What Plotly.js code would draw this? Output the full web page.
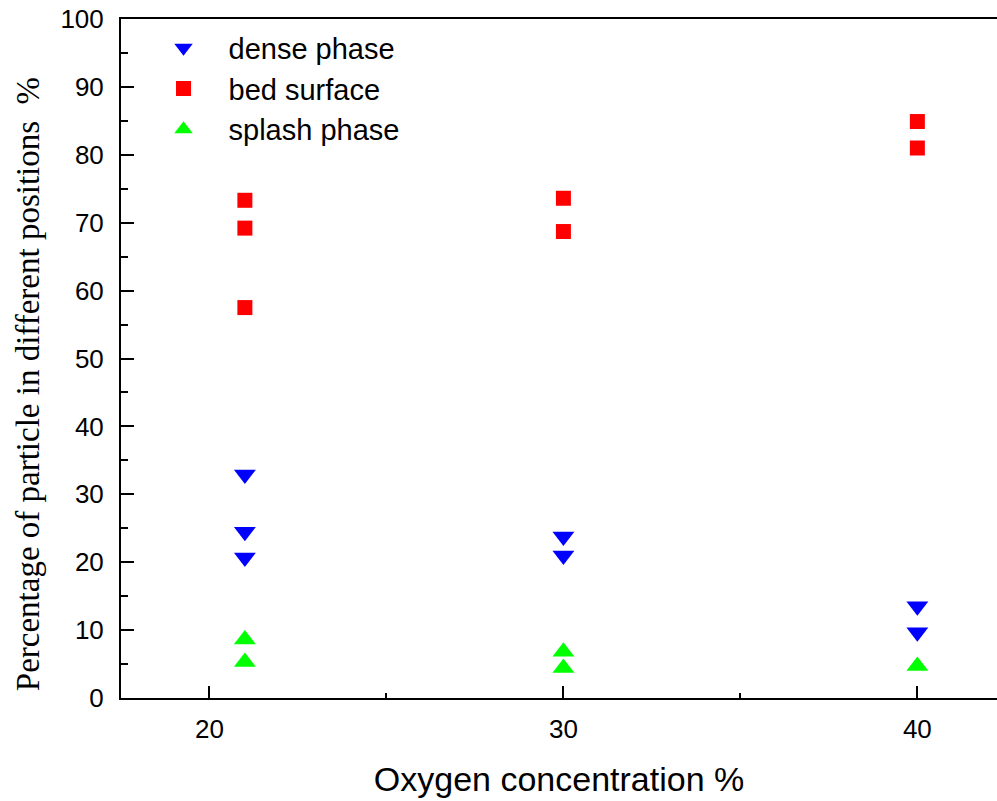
<!DOCTYPE html>
<html>
<head>
<meta charset="utf-8">
<script src="https://cdn.plot.ly/plotly-3.0.1.min.js"></script>
<style>html,body{margin:0;padding:0;overflow:hidden;background:#fff;}</style>
</head>
<body>
<div id="chart" style="width:997px;height:801px;"></div>
<script>
// Data
const seriesNames = ["dense phase", "bed surface", "splash phase"];
const xDense = [21, 21, 21, 30, 30, 40, 40];
const yDense = [32.9, 24.5, 20.7, 23.8, 21.0, 13.5, 9.7];
const xBed = [21, 21, 21, 30, 30, 40, 40];
const yBed = [73.3, 69.2, 57.5, 73.6, 68.7, 84.9, 81.0];
const xSplash = [21, 21, 30, 30, 40];
const ySplash = [8.6, 5.3, 6.8, 4.4, 4.7];
const xTickVals = [20, 30, 40];
const yTickVals = [0, 10, 20, 30, 40, 50, 60, 70, 80, 90, 100];
const xTitle = "Oxygen concentration %";
const yTitle = "Percentage of particle in different positions  %";

const traces = [
  {x: xDense, y: yDense, name: seriesNames[0], type: "scatter", mode: "markers",
   marker: {symbol: "triangle-down", size: 19, color: "#0000FF"}},
  {x: xBed, y: yBed, name: seriesNames[1], type: "scatter", mode: "markers",
   marker: {symbol: "square", size: 15, color: "#FF0000"}},
  {x: xSplash, y: ySplash, name: seriesNames[2], type: "scatter", mode: "markers",
   marker: {symbol: "triangle-up", size: 19, color: "#00FF00"}}
];

const layout = {
  width: 997, height: 801,
  margin: {l: 121, r: 0, t: 19, b: 103},
  paper_bgcolor: "#fff", plot_bgcolor: "#fff",
  font: {family: "Liberation Sans, Arial, sans-serif", color: "#000"},
  showlegend: true,
  legend: {x: 0.02, y: 0.995, xanchor: "left", yanchor: "top", bgcolor: "rgba(0,0,0,0)",
           font: {size: 29, family: "Liberation Sans, Arial, sans-serif"}, itemwidth: 80, tracegroupgap: 0},
  xaxis: {
    range: [17.5, 42.25], showgrid: false, zeroline: false,
    showline: true, linecolor: "#000", linewidth: 2, mirror: true,
    tickmode: "array", tickvals: xTickVals, ticktext: xTickVals.map(String),
    ticks: "inside", ticklen: 12, tickwidth: 2, tickcolor: "#000",
    minor: {tickmode: "array", tickvals: [25, 35], ticks: "inside", ticklen: 5, tickwidth: 2, tickcolor: "#000"},
    tickfont: {size: 26, family: "Liberation Sans, Arial, sans-serif"},
    ticklabelstandoff: 7,
    title: {text: xTitle, font: {size: 34, family: "Liberation Sans, Arial, sans-serif"}, standoff: 24}
  },
  yaxis: {
    range: [0, 100], showgrid: false, zeroline: false,
    showline: true, linecolor: "#000", linewidth: 2, mirror: false,
    tickmode: "array", tickvals: yTickVals, ticktext: yTickVals.map(String),
    ticks: "inside", ticklen: 13, tickwidth: 2, tickcolor: "#000",
    minor: {dtick: 5, tick0: 0, ticks: "inside", ticklen: 7, tickwidth: 2, tickcolor: "#000"},
    tickfont: {size: 26, family: "Liberation Sans, Arial, sans-serif"},
    ticklabelstandoff: 10
  },
  annotations: [{
    text: yTitle, textangle: -90, showarrow: false,
    xref: "paper", yref: "paper", x: -0.106, y: 0.4624, xanchor: "center", yanchor: "middle",
    font: {size: 33, family: "Liberation Serif, Times New Roman, serif", color: "#000"}
  }]
};

Plotly.newPlot("chart", traces, layout, {displayModeBar: false, staticPlot: true});
</script>
</body>
</html>
